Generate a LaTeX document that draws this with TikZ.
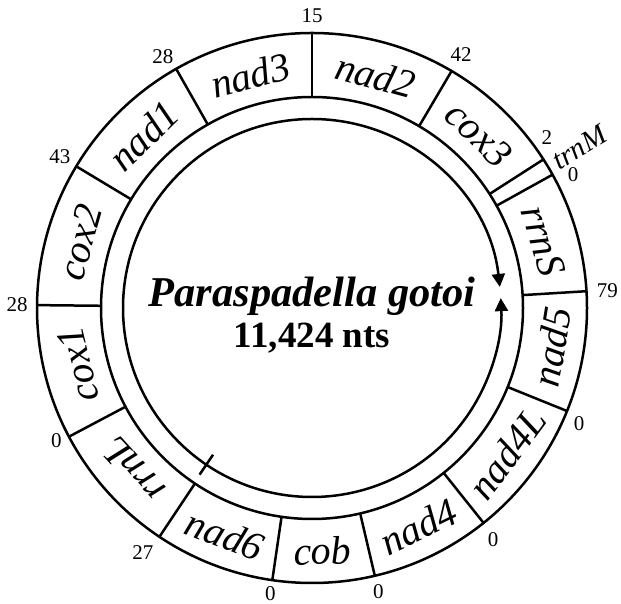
\documentclass[tikz,border=0pt]{standalone}
\usepackage{fontspec}
\setmainfont{Liberation Serif}
\usetikzlibrary{arrows.meta}
\begin{document}
\begin{tikzpicture}[x=1pt,y=1pt,line width=2.5pt,
  gene/.style={font=\fontsize{40}{40}\selectfont\itshape,inner sep=0pt},
  num/.style={font=\fontsize{21}{21}\selectfont,inner sep=0pt},
  title/.style={font=\fontsize{42.5}{42.5}\selectfont\bfseries\itshape,inner sep=0pt},
  sub/.style={font=\fontsize{37}{37}\selectfont\bfseries,inner sep=0pt},
  headarrow/.style={-{Triangle[length=13pt,width=13pt]}}]
\useasboundingbox (0,0) rectangle (621,604);
\begin{scope}[shift={(312,296)}]
  % rings
  \draw (0,0) circle[radius=275];
  \draw (0,0) circle[radius=211];
  % boundaries
  \foreach \a in {90,59.5,32.7,29,3.5,-22,-51.4,-76.8,-98.3,-123.7,-152.1,-180.6,-211,-240.4}
    \draw (\a:211) -- (\a:275);
  % inner circle with arrows
  \draw[headarrow] (180:189) arc[start angle=180,end angle=6.4,radius=189];
  \draw[headarrow] (-180:189) arc[start angle=-180,end angle=3.0,radius=189];
  \draw (236:177) -- (236:201);
  % gene labels (outward tops)
  \node[gene,rotate=14.8]   (nadthree) at (104.8:241) {nad3};
  \node[gene,rotate=-15.25] (nadtwo)   at (74.75:241) {nad2};
  \node[gene,rotate=-43.9]  (coxthree) at (46.1:241)  {cox3};
  \node[gene,rotate=-73.75] (rrns)     at (16.25:241) {rrnS};
  \node[gene,rotate=132.1]  (rrnl)     at (222.1:241) {rrnL};
  \node[gene,rotate=103.65] (coxone)   at (193.65:241) {cox1};
  \node[gene,rotate=74.2]   (coxtwo)   at (164.2:241) {cox2};
  \node[gene,rotate=44.3]   (nadone)   at (134.3:241) {nad1};
  % gene labels (inward tops)
  \node[gene,rotate=80.75]  (nadfive)  at (-9.25:243)  {nad5};
  \node[gene,rotate=53.3]   (nadfourl) at (-36.7:243)  {nad4L};
  \node[gene,rotate=25.9]   (nadfour)  at (-64.1:243)  {nad4};
  \node[gene,rotate=2.45]   (cob)      at (-87.55:243) {cob};
  \node[gene,rotate=-21]    (nadsix)   at (-111:243)   {nad6};
  % trnM
  \node[gene,font=\fontsize{29}{29}\selectfont\itshape,rotate=31] (trnm) at (31:312) {trnM};
  % numbers
  \node[num] (n1)  at (90:292)    {15};
  \node[num] (n2)  at (59.5:294)  {42};
  \node[num] (n3)  at (35.9:290)  {2};
  \node[num] (n4)  at (27:293)    {0};
  \node[num] (n5)  at (3.4:296)   {79};
  \node[num] (n6)  at (-23.4:291) {0};
  \node[num] (n7)  at (-52:294)   {0};
  \node[num] (n8)  at (-76.8:291) {0};
  \node[num] (n9)  at (-98.3:289) {0};
  \node[num] (n10) at (-124.7:297) {27};
  \node[num] (n11) at (207.4:288) {0};
  \node[num] (n12) at (179.4:295) {28};
  \node[num] (n13) at (149:294)   {43};
  \node[num] (n14) at (120.7:292) {28};
  % centre
  \node[title,anchor=base] (name) at (0,1) {Paraspadella gotoi};
  \node[sub,anchor=base]   (len)  at (0,-40) {11,424 nts};
\end{scope}
\end{tikzpicture}
\end{document}
